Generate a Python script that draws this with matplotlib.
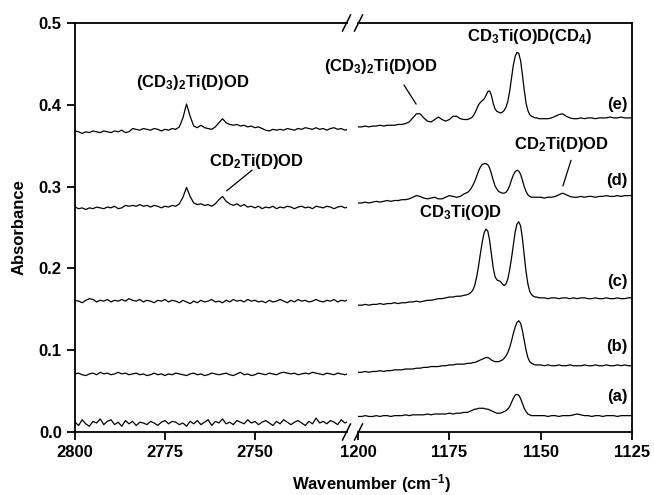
import numpy as np
import matplotlib.pyplot as plt
from matplotlib.lines import Line2D

plt.rcParams['font.family'] = ['Liberation Sans', 'DejaVu Sans']
plt.rcParams['font.weight'] = 'bold'
plt.rcParams['mathtext.fontset'] = 'custom'
plt.rcParams['mathtext.bf'] = 'Liberation Sans:bold'
plt.rcParams['mathtext.rm'] = 'Liberation Sans:bold'
plt.rcParams['mathtext.default'] = 'bf'

# Wavenumber grids (cm-1)
wn_left = np.arange(2800, 2723, -1)
wn_right = np.concatenate([np.arange(1200, 1170, -1),
                           np.arange(1170, 1150, -0.5),
                           np.arange(1150, 1124, -1)])

# Absorbance in milli-units
a_left = [12, 8, 15, 10, 7, 13, 11, 16, 9, 13,
          15, 9, 12, 7, 14, 10, 13, 8, 12, 11,
          9, 13, 11, 8, 12, 14, 10, 13, 12, 9,
          11, 7, 13, 10, 14, 9, 12, 15, 8, 13,
          11, 16, 10, 12, 9, 14, 12, 10, 15, 11,
          13, 9, 12, 14, 11, 8, 13, 10, 15, 12,
          9, 12, 14, 11, 8, 13, 10, 17, 11, 13,
          10, 14, 12, 9, 15, 11, 13]
b_left = [71, 72, 70, 69, 71, 72, 70, 73, 71, 72,
          70, 71, 73, 71, 72, 70, 71, 72, 70, 71,
          69, 70, 72, 70, 71, 69, 71, 70, 72, 71,
          70, 69, 71, 72, 70, 71, 69, 70, 72, 71,
          70, 71, 72, 70, 69, 71, 73, 70, 71, 69,
          70, 72, 71, 70, 72, 71, 70, 72, 73, 72,
          71, 72, 70, 71, 72, 71, 73, 72, 71, 70,
          72, 71, 70, 72, 71, 70, 71]
c_left = [161, 160, 158, 161, 163, 162, 159, 161, 160, 162,
          159, 161, 160, 162, 160, 163, 161, 160, 162, 159,
          161, 160, 158, 161, 160, 162, 159, 161, 160, 158,
          161, 159, 157, 160, 158, 161, 159, 160, 162, 159,
          160, 158, 161, 159, 162, 160, 161, 159, 162, 160,
          161, 159, 160, 158, 161, 159, 160, 162, 160, 158,
          161, 159, 162, 160, 161, 159, 160, 162, 160, 159,
          161, 160, 162, 159, 161, 160, 162]
d_left = [275, 273, 274, 272, 274, 273, 275, 274, 273, 275,
          274, 276, 273, 274, 277, 276, 277, 276, 278, 276,
          277, 275, 277, 276, 274, 276, 275, 277, 276, 279,
          287, 299, 288, 280, 278, 279, 277, 278, 276, 279,
          284, 288, 282, 279, 277, 279, 276, 278, 275, 276,
          274, 276, 273, 275, 274, 276, 273, 275, 274, 276,
          275, 273, 275, 276, 274, 275, 273, 276, 275, 274,
          276, 275, 273, 275, 276, 274, 275]
e_left = [368, 367, 365, 367, 366, 368, 367, 366, 368, 367,
          366, 368, 367, 369, 366, 367, 371, 370, 369, 371,
          370, 369, 371, 370, 368, 370, 369, 371, 370, 373,
          384, 401, 386, 374, 372, 375, 372, 371, 370, 373,
          378, 383, 378, 376, 375, 376, 374, 375, 373, 374,
          372, 373, 371, 369, 368, 370, 369, 370, 369, 371,
          370, 369, 371, 370, 372, 371, 370, 372, 370, 371,
          369, 371, 372, 370, 371, 369, 370]

a_right = [19, 19, 20, 19, 19, 20, 19, 20, 20, 19,
           20, 20, 20, 21, 20, 21, 21, 21, 21, 22,
           21, 22, 22, 22, 22, 23, 22, 23, 23, 24,
           24, 25, 26, 27, 28, 28, 29, 29, 29, 29,
           28, 28, 27, 26, 25, 24, 23, 23, 23, 24,
           25, 26, 28, 31, 36, 41, 45, 46, 45, 41,
           35, 29, 25, 22, 21, 20, 20, 20, 20, 20,
           20, 20, 19, 20, 20, 19, 20, 20, 20, 21,
           22, 21, 20, 20, 19, 20, 20, 19, 20, 20,
           20, 19, 20, 20, 20, 20]
b_right = [73, 73, 74, 73, 74, 74, 75, 74, 75, 75,
           76, 76, 76, 77, 77, 77, 78, 78, 79, 79,
           80, 80, 80, 81, 81, 82, 82, 83, 83, 83,
           84, 84, 84, 85, 85, 86, 87, 88, 89, 90,
           91, 91, 90, 88, 87, 86, 86, 86, 87, 88,
           90, 93, 97, 103, 111, 120, 128, 134, 136, 133,
           124, 112, 100, 91, 86, 84, 83, 82, 82, 82,
           82, 81, 82, 81, 81, 82, 81, 81, 82, 81,
           81, 81, 82, 81, 81, 82, 81, 81, 82, 81,
           81, 82, 81, 82, 81, 81]
c_right = [155, 155, 156, 155, 156, 156, 157, 156, 157, 157,
           158, 157, 158, 158, 159, 159, 160, 159, 160, 161,
           161, 162, 163, 163, 164, 165, 165, 166, 166, 167,
           168, 169, 171, 174, 180, 190, 203, 218, 232, 243,
           248, 246, 235, 218, 201, 190, 186, 185, 184, 181,
           179, 181, 187, 198, 212, 228, 244, 254, 257, 252,
           237, 216, 196, 181, 172, 168, 166, 165, 165, 164,
           164, 164, 163, 164, 164, 163, 164, 164, 163, 164,
           163, 164, 164, 163, 163, 164, 163, 163, 164, 163,
           163, 164, 163, 163, 164, 164]
d_right = [280, 280, 281, 280, 281, 282, 281, 282, 283, 282,
           283, 283, 284, 284, 285, 287, 289, 288, 286, 285,
           286, 287, 285, 285, 287, 289, 288, 287, 288, 291,
           293, 295, 298, 302, 307, 313, 319, 324, 327, 328,
           328, 327, 323, 316, 308, 301, 297, 294, 293, 292,
           292, 293, 296, 301, 308, 314, 318, 320, 319, 315,
           308, 300, 294, 290, 288, 287, 287, 287, 287, 287,
           287, 286, 287, 287, 288, 290, 292, 290, 288, 287,
           287, 288, 287, 288, 288, 287, 288, 288, 289, 288,
           288, 289, 288, 289, 289, 289]
e_right = [373, 373, 374, 373, 374, 374, 375, 374, 375, 375,
           375, 376, 376, 377, 379, 384, 389, 389, 384, 380,
           379, 382, 385, 382, 380, 382, 386, 386, 383, 382,
           382, 383, 384, 386, 390, 395, 400, 403, 405, 407,
           411, 416, 417, 412, 402, 395, 392, 391, 390, 391,
           393, 397, 404, 416, 432, 448, 459, 464, 463, 454,
           437, 418, 402, 393, 388, 386, 385, 384, 384, 383,
           383, 383, 383, 384, 386, 388, 389, 386, 384, 383,
           383, 384, 383, 384, 384, 383, 384, 384, 384, 385,
           384, 384, 385, 384, 384, 384]

left_traces = [a_left, b_left, c_left, d_left, e_left]
right_traces = [a_right, b_right, c_right, d_right, e_right]
trace_labels = ['(a)', '(b)', '(c)', '(d)', '(e)']
label_y = [0.043, 0.104, 0.184, 0.308, 0.400]

W, H = 654, 495
fig = plt.figure(figsize=(W / 100, H / 100), dpi=100)

x0, x1, x2, x3 = 75, 347, 358, 632
ytop, ybot = 23, 432
axL = fig.add_axes([x0 / W, 1 - ybot / H, (x1 - x0) / W, (ybot - ytop) / H])
axR = fig.add_axes([x2 / W, 1 - ybot / H, (x3 - x2) / W, (ybot - ytop) / H])

for y in left_traces:
    axL.plot(wn_left, np.array(y) / 1000, color='black', lw=0.9)
for y in right_traces:
    axR.plot(wn_right, np.array(y) / 1000, color='black', lw=0.9)

axL.set_xlim(2800, 2724.4)
axR.set_xlim(1200, 1125)
for ax in (axL, axR):
    ax.set_ylim(0, 0.5)
    for s in ax.spines.values():
        s.set_linewidth(1.3)
    ax.tick_params(direction='out', length=6, width=1.3, labelsize=12,
                   top=False, right=False)

axL.spines['right'].set_visible(False)
axR.spines['left'].set_visible(False)
axL.set_xticks([2800, 2775, 2750])
axL.set_yticks([0.0, 0.1, 0.2, 0.3, 0.4, 0.5])
axL.set_yticklabels(['0.0', '0.1', '0.2', '0.3', '0.4', '0.5'])
axR.set_xticks([1200, 1175, 1150, 1125])
axR.set_yticks([])
for ax in (axL, axR):
    for t in ax.get_xticklabels() + ax.get_yticklabels():
        t.set_fontweight('bold')

# axis break marks
for yy in (ybot, ytop):
    for xx in (346.5, 358.5):
        fig.add_artist(Line2D([(xx - 4) / W, (xx + 4) / W],
                              [1 - (yy + 8) / H, 1 - (yy - 8) / H],
                              color='black', lw=1.1))

fig.text(372 / W, 1 - 484 / H, 'Wavenumber (cm$^{-1}$)', ha='center', va='center',
         fontsize=12, fontweight='bold')
fig.text(19 / W, 1 - 227 / H, 'Absorbance', ha='center', va='center',
         rotation=90, fontsize=12, fontweight='bold')

for lab, yl in zip(trace_labels, label_y):
    axR.text(1126.2, yl, lab, ha='right', va='center', fontsize=12, fontweight='bold')

tk = dict(fontsize=12, fontweight='bold', ha='center', va='center')
axL.text(2767.2, 0.427, r'(CD$_{3}$)$_{2}$Ti(D)OD', **tk)
axL.text(2749.4, 0.331, r'CD$_{2}$Ti(D)OD', **tk)
axL.plot([2750.8, 2757.8], [0.320, 0.295], color='black', lw=0.9)
axR.text(1193.7, 0.447, r'(CD$_{3}$)$_{2}$Ti(D)OD', clip_on=False, **tk)
axR.plot([1187.4, 1184.1], [0.424, 0.401], color='black', lw=0.9)
axR.text(1152.9, 0.483, r'CD$_{3}$Ti(O)D(CD$_{4}$)', **tk)
axR.text(1144.2, 0.352, r'CD$_{2}$Ti(D)OD', **tk)
axR.plot([1141.7, 1143.9], [0.332, 0.301], color='black', lw=0.9)
axR.text(1171.8, 0.268, r'CD$_{3}$Ti(O)D', **tk)

plt.savefig('out.png', dpi=100)
